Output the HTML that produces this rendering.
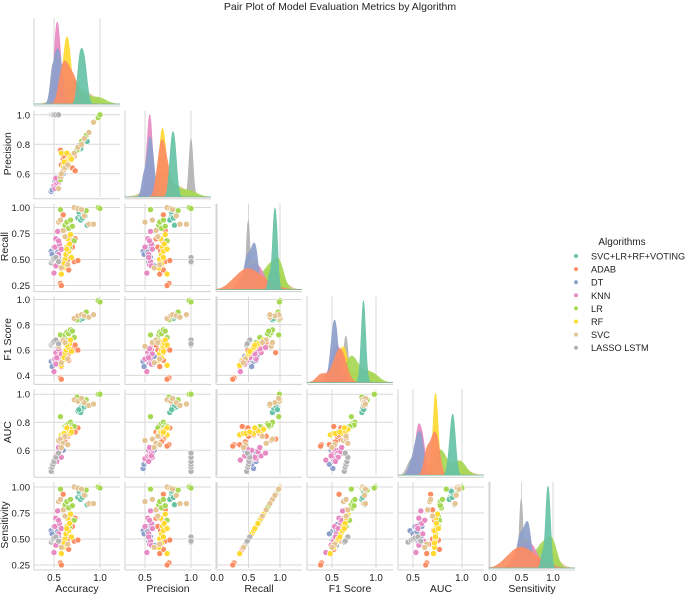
<!DOCTYPE html>
<html><head><meta charset="utf-8"><style>
body{margin:0;background:#fff;width:685px;height:594px;overflow:hidden}
svg{font-family:"Liberation Sans",Arial,sans-serif}
</style></head><body>
<svg id="chart" width="685" height="594" viewBox="0 0 685 594" xmlns="http://www.w3.org/2000/svg">
<text x="340" y="10" font-size="10.5" text-anchor="middle" fill="#222">Pair Plot of Model Evaluation Metrics by Algorithm</text>
<g id="panels"></g>
<g id="legend">
<text x="622" y="245" font-size="10" text-anchor="middle" fill="#222">Algorithms</text>
</g>
</svg>
<script>
const variables = ["Accuracy","Precision","Recall","F1 Score","AUC","Sensitivity"];
const algorithms = ["SVC+LR+RF+VOTING","ADAB","DT","KNN","LR","RF","SVC","LASSO LSTM"];
const colors = ["#66c2a5","#fc8d62","#8da0cb","#e78ac3","#a6d854","#ffd92f","#e5c494","#b3b3b3"];
// rows: [accuracy, precision, recall, f1, auc]; sensitivity = recall
const votingData = [[0.76,0.78,0.90,0.84,0.88],[0.78,0.79,0.93,0.86,0.90],[0.80,0.80,0.91,0.85,0.91],[0.82,0.82,0.95,0.87,0.92],[0.84,0.83,0.92,0.86,0.93],[0.79,0.77,0.88,0.84,0.87],[0.81,0.81,0.90,0.85,0.90],[0.83,0.84,0.94,0.87,0.91],[0.86,0.82,0.83,0.87,0.92],[0.77,0.79,0.96,0.86,0.89]];
const adabData = [[0.57,0.76,0.27,0.38,0.64],[0.58,0.74,0.25,0.37,0.63],[0.60,0.70,0.93,0.58,0.68],[0.62,0.68,0.45,0.54,0.66],[0.65,0.66,0.50,0.56,0.70],[0.70,0.64,0.62,0.60,0.74],[0.72,0.72,0.48,0.60,0.75],[0.76,0.77,0.49,0.60,0.76],[0.68,0.69,0.68,0.62,0.72],[0.64,0.67,0.58,0.58,0.71],[0.58,0.66,0.36,0.47,0.64],[0.73,0.62,0.70,0.64,0.73],[0.61,0.72,0.78,0.66,0.70],[0.66,0.70,0.40,0.52,0.77]];
const dtData = [[0.47,0.48,0.58,0.51,0.47],[0.48,0.49,0.55,0.47,0.50],[0.50,0.52,0.62,0.52,0.52],[0.52,0.54,0.48,0.50,0.55],[0.53,0.55,0.60,0.54,0.56],[0.55,0.56,0.52,0.53,0.58],[0.56,0.58,0.64,0.56,0.57],[0.58,0.59,0.45,0.49,0.60],[0.54,0.53,0.57,0.55,0.54],[0.51,0.55,0.50,0.52,0.53],[0.57,0.57,0.62,0.58,0.59],[0.60,0.60,0.44,0.55,0.60]];
const knnData = [[0.50,0.52,0.37,0.43,0.53],[0.51,0.50,0.62,0.53,0.54],[0.52,0.53,0.70,0.58,0.56],[0.53,0.55,0.45,0.50,0.57],[0.54,0.56,0.77,0.62,0.58],[0.55,0.54,0.55,0.55,0.60],[0.56,0.57,0.65,0.60,0.59],[0.57,0.56,0.48,0.52,0.61],[0.58,0.58,0.60,0.57,0.55],[0.53,0.54,0.52,0.54,0.52],[0.55,0.55,0.68,0.61,0.62],[0.52,0.57,0.44,0.49,0.56]];
const lrData = [[0.57,0.56,0.98,0.72,0.84],[0.62,0.65,0.83,0.72,0.77],[0.64,0.66,0.86,0.74,0.78],[0.66,0.68,0.80,0.73,0.79],[0.68,0.70,0.88,0.76,0.80],[0.70,0.72,0.82,0.75,0.78],[0.63,0.64,0.72,0.68,0.76],[0.72,0.74,0.68,0.70,0.77],[0.75,0.76,0.99,0.84,0.98],[0.80,0.82,0.98,0.88,0.95],[0.85,0.86,0.97,0.90,0.96],[0.98,0.98,1.00,0.99,1.00],[1.00,1.00,0.99,0.98,1.00],[0.67,0.70,0.62,0.66,0.76]];
const rfData = [[0.58,0.74,0.36,0.48,0.71],[0.60,0.65,0.42,0.52,0.72],[0.62,0.66,0.50,0.57,0.73],[0.63,0.68,0.55,0.60,0.73],[0.64,0.69,0.62,0.63,0.74],[0.65,0.67,0.70,0.66,0.73],[0.66,0.70,0.58,0.62,0.72],[0.67,0.71,0.65,0.65,0.74],[0.68,0.72,0.74,0.68,0.75],[0.61,0.68,0.46,0.54,0.72],[0.69,0.70,0.52,0.59,0.73],[0.64,0.74,0.60,0.64,0.76]];
const svcData = [[0.55,0.50,0.86,0.63,0.67],[0.57,0.58,0.88,0.66,0.68],[0.60,0.62,0.78,0.68,0.65],[0.62,0.64,0.72,0.66,0.70],[0.65,0.66,0.45,0.53,0.64],[0.58,0.60,0.42,0.50,0.62],[0.72,0.74,1.00,0.85,0.96],[0.76,0.78,0.99,0.87,0.95],[0.80,0.80,0.98,0.88,0.97],[0.83,0.84,0.92,0.87,0.94],[0.88,0.88,0.84,0.86,0.92],[0.93,0.95,0.84,0.88,0.93]];
const lassoData = [[0.47,1.0,0.47,0.64,0.45],[0.48,1.0,0.49,0.65,0.48],[0.49,1.0,0.50,0.66,0.50],[0.50,1.0,0.51,0.67,0.52],[0.52,1.0,0.52,0.68,0.55],[0.55,1.0,0.48,0.65,0.58]];
const xTicks = [[0.5,1.0],[0.5,1.0],[0.0,0.5,1.0],[0.5,1.0],[0.5,1.0],[0.0,0.5,1.0]];
const xTickLabels = [["0.5","1.0"],["0.5","1.0"],["0.0","0.5","1.0"],["0.5","1.0"],["0.5","1.0"],["0.0","0.5","1.0"]];
const yTicks = [[],[0.6,0.8,1.0],[0.25,0.5,0.75,1.0],[0.4,0.6,0.8,1.0],[0.6,0.8,1.0],[0.25,0.5,0.75,1.0]];
const yTickLabels = [[],["0.6","0.8","1.0"],["0.25","0.50","0.75","1.00"],["0.4","0.6","0.8","1.0"],["0.6","0.8","1.0"],["0.25","0.50","0.75","1.00"]];

const allData = [votingData,adabData,dtData,knnData,lrData,rfData,svcData,lassoData];
const NS="http://www.w3.org/2000/svg";
const W=86,H=86;
const colLeft=c=>34+91*c;
const rowTop=r=>18+92.8*r;
const xDom=[[0.283,1.217],[0.283,1.217],[-0.016,1.349],[0.216,1.193],[0.347,1.225],[-0.016,1.349]];
const yDom=[[0,1],[0.444,1.027],[0.211,1.038],[0.345,1.024],[0.422,1.036],[0.221,1.048]];
function xS(c,v){return colLeft(c)+(v-xDom[c][0])/(xDom[c][1]-xDom[c][0])*W;}
function yS(r,v){return rowTop(r)+H-(v-yDom[r][0])/(yDom[r][1]-yDom[r][0])*H;}
function val(p,i){return i===5?p[2]:p[i];}
function mk(tag,attrs,parent){const e=document.createElementNS(NS,tag);for(const k in attrs)e.setAttribute(k,attrs[k]);parent.appendChild(e);return e;}
const root=document.getElementById('panels');
const N=allData.reduce((s,d)=>s+d.length,0);

for(let r=0;r<6;r++){for(let c=0;c<=r;c++){
  const g=mk('g',{},root);
  
  
  const L=colLeft(c),T=rowTop(r);
  xTicks[c].forEach(t=>{const x=xS(c,t);if(x>=L&&x<=L+W){
    const gl=mk('line',{x1:x,x2:x,y1:T,y2:T+H,stroke:'#d9d9d9','stroke-width':1},g);
    }});
  if(r!==c){yTicks[r].forEach(t=>{const y=yS(r,t);
    const gl=mk('line',{x1:L,x2:L+W,y1:y,y2:y,stroke:'#d9d9d9','stroke-width':1},g);
    });}
  mk('line',{x1:L,x2:L,y1:T,y2:T+H+2,stroke:'#d0d0d0','stroke-width':1},g);
  mk('line',{x1:L,x2:L+W,y1:T+H+2,y2:T+H+2,stroke:'#d0d0d0','stroke-width':1},g);
  if(r===c){
    const dens=[];let mx=0;const xs=[];
    for(let k=0;k<=120;k++)xs.push(xDom[c][0]+(xDom[c][1]-xDom[c][0])*k/120);
    allData.forEach(d=>{const v=d.map(p=>val(p,c));const n=v.length;
      const m=v.reduce((a,b)=>a+b,0)/n;const sd=Math.sqrt(v.reduce((a,b)=>a+(b-m)*(b-m),0)/(n-1));
      const bw=Math.max(sd*Math.pow(n,-0.2),0.022);
      const ys=xs.map(x=>v.reduce((s,vi)=>s+Math.exp(-0.5*((x-vi)/bw)**2),0)/(n*bw*2.5066)*n/N);
      ys.forEach(y=>{if(y>mx)mx=y;});dens.push(ys);});
    for(let a=dens.length-1;a>=0;a--){const ys=dens[a];
      let dstr='M'+xS(c,xs[0])+','+(T+H);
      xs.forEach((x,k)=>{dstr+=' L'+xS(c,x).toFixed(2)+','+(T+H-ys[k]/mx*(H-4)).toFixed(2);});
      dstr+=' L'+xS(c,xs[xs.length-1])+','+(T+H)+' Z';
      const p=mk('path',{d:dstr,fill:colors[a],'fill-opacity':0.92,stroke:colors[a],'stroke-width':0.5},g);
      
      
    }
  } else {
    allData.forEach((d,a)=>{d.forEach(p=>{
      const cx=xS(c,val(p,c)),cy=yS(r,val(p,r));
      const ci=mk('circle',{cx:cx.toFixed(2),cy:cy.toFixed(2),r:3,fill:colors[a],stroke:'#fff','stroke-width':0.6},g);
      
      
    });});
  }
  if(c===0&&r>0){
    yTicks[r].forEach((t,i)=>{const tx=mk('text',{x:L-4,y:yS(r,t)+3.5,'font-size':9.5,'text-anchor':'end',fill:'#222'},g);
      tx.textContent=yTickLabels[r][i];
      });
    const yl=mk('text',{x:0,y:0,'font-size':10.5,'text-anchor':'middle',fill:'#222',transform:'translate('+((r===2||r===5)?8:11)+','+(T+H/2)+') rotate(-90)'},g);
    yl.textContent=variables[r];
    
  }
  if(r===5){
    xTicks[c].forEach((t,i)=>{const tx=mk('text',{x:xS(c,t),y:T+H+13,'font-size':9.8,'text-anchor':'middle',fill:'#222'},g);
      tx.textContent=xTickLabels[c][i];
      });
    const xl=mk('text',{x:L+W/2,y:T+H+24,'font-size':10.5,'text-anchor':'middle',fill:'#222'},g);
    xl.textContent=variables[c];
    
  }
}}
const lg=document.getElementById('legend');
algorithms.forEach((a,i)=>{const y=256+13.1*i;
  const ci=mk('circle',{cx:576,cy:y,r:2,fill:colors[i]},lg);
  
  const t=mk('text',{x:591,y:y+3.5,'font-size':9.2,fill:'#222'},lg);t.textContent=a;
  });
</script>
</body></html>
